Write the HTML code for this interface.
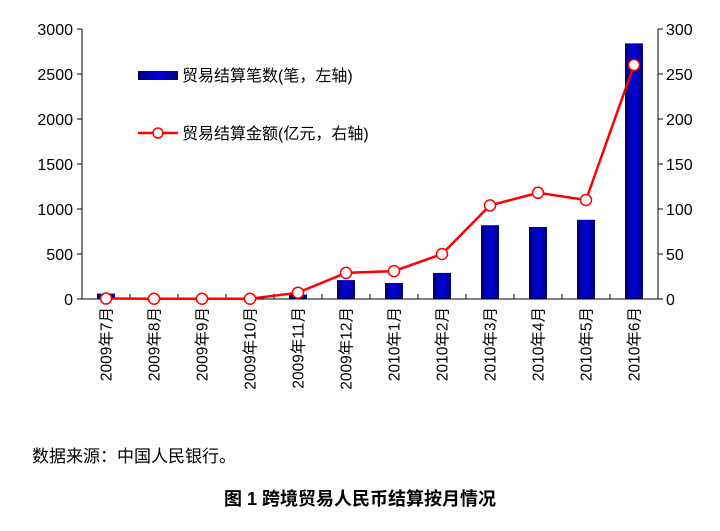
<!DOCTYPE html>
<html><head><meta charset="utf-8"><style>
body{margin:0;background:#fff;}
svg text{font-family:"Liberation Sans","Noto Sans CJK SC",sans-serif;}
</style></head><body>
<svg id="c" width="720" height="526" xmlns="http://www.w3.org/2000/svg">
<defs><linearGradient id="g" x1="0" x2="1" y1="0" y2="0"><stop offset="0" stop-color="#000070"/><stop offset="0.5" stop-color="#0000e0"/><stop offset="1" stop-color="#000080"/></linearGradient></defs>
<g id="plot"></g>
<rect x="138" y="71" width="40" height="9" fill="url(#g)"/>
<text x="182" y="81" font-size="16">贸易结算笔数(笔，左轴)</text>
<line x1="138" y1="133" x2="178" y2="133" stroke="#f00" stroke-width="2.5"/>
<circle cx="158" cy="133" r="5" fill="#fff" stroke="#f00" stroke-width="1.5"/>
<text x="182" y="139" font-size="16">贸易结算金额(亿元，右轴)</text>
<text x="32" y="462" font-size="17" font-family="'Noto Serif CJK SC',serif">数据来源：中国人民银行。</text>
<text x="360" y="505" font-size="18" text-anchor="middle" font-weight="bold">图 1  跨境贸易人民币结算按月情况</text>
</svg>
<script>
const categories=["2009年7月","2009年8月","2009年9月","2009年10月","2009年11月","2009年12月","2010年1月","2010年2月","2010年3月","2010年4月","2010年5月","2010年6月"];
const counts=[60,8,10,10,50,210,178,290,820,800,880,2840];
const amounts=[0.5,0.3,0.3,0.3,7,29,31,50,104,118,110,260];
const leftTicks=[0,500,1000,1500,2000,2500,3000];
const rightTicks=[0,50,100,150,200,250,300];
const L=82,R=658,T=29,B=299;
const NS="http://www.w3.org/2000/svg";
const g=document.getElementById('plot');
const bw=(R-L)/categories.length;
const xc=i=>L+bw*(i+0.5);
const yl=v=>B-(v/3000)*(B-T);
const yr=v=>B-(v/300)*(B-T);
function mk(t,a){const e=document.createElementNS(NS,t);for(const k in a)e.setAttribute(k,a[k]);g.appendChild(e);return e;}
counts.forEach((v,i)=>{const e=mk('rect',{x:xc(i)-9,y:yl(v),width:18,height:B-yl(v),fill:'url(#g)'});

});
let a=mk('line',{x1:L,y1:T,x2:L,y2:B,stroke:'#000'});


a=mk('line',{x1:R,y1:T,x2:R,y2:B,stroke:'#000'});


a=mk('line',{x1:L,y1:B,x2:R,y2:B,stroke:'#000'});


leftTicks.forEach(v=>{mk('line',{x1:L-5,y1:yl(v),x2:L,y2:yl(v),stroke:'#000'});
const t=mk('text',{x:L-9,y:yl(v)+6,'font-size':16,'text-anchor':'end'});t.textContent=v;

});
rightTicks.forEach(v=>{mk('line',{x1:R,y1:yr(v),x2:R+5,y2:yr(v),stroke:'#000'});
const t=mk('text',{x:R+8,y:yr(v)+6,'font-size':16});t.textContent=v;

});
categories.forEach((c,i)=>{if(i>0)mk('line',{x1:L+bw*i,y1:B-5,x2:L+bw*i,y2:B,stroke:'#000'});
const t=mk('text',{x:0,y:0,'font-size':15.5,'text-anchor':'end',transform:`translate(${xc(i)+5.5},${B+8}) rotate(-90)`});t.textContent=c;

});
const ln=mk('polyline',{points:amounts.map((v,i)=>xc(i)+','+yr(v)).join(' '),fill:'none',stroke:'#f00','stroke-width':2.5});


amounts.forEach((v,i)=>{const c=mk('circle',{cx:xc(i),cy:yr(v),r:5.5,fill:'#fff',stroke:'#f00','stroke-width':1.5});

});
</script>
</body></html>
